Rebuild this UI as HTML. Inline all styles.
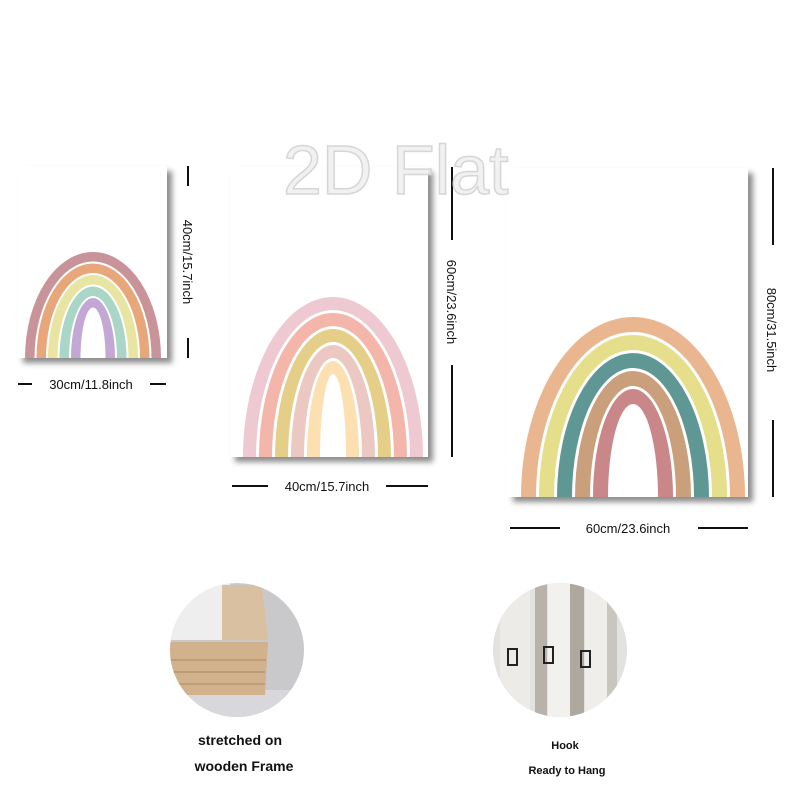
<!DOCTYPE html>
<html><head><meta charset="utf-8"><style>
html,body{margin:0;padding:0;background:#fff;}
svg{display:block;font-family:"Liberation Sans",sans-serif;}
</style></head><body>
<svg width="800" height="800" viewBox="0 0 800 800">
<defs>
<filter id="sh" x="-10%" y="-10%" width="130%" height="130%"><feDropShadow dx="5" dy="5" stdDeviation="3" flood-color="#000" flood-opacity="0.45"/></filter>
<clipPath id="c1"><circle cx="237" cy="650" r="67"/></clipPath>
<clipPath id="c2"><circle cx="560" cy="650" r="67"/></clipPath>
</defs>

<g>
<rect x="18" y="166" width="149" height="192" fill="#fff" filter="url(#sh)"/>
<g id="r1"></g>
</g>
<line x1="188" y1="166" x2="188" y2="186" stroke="#111" stroke-width="2"/>
<line x1="188" y1="338" x2="188" y2="358" stroke="#111" stroke-width="2"/>
<text transform="translate(183,262) rotate(90)" text-anchor="middle" font-size="13" fill="#111">40cm/15.7inch</text>
<line x1="18" y1="384" x2="32" y2="384" stroke="#111" stroke-width="2"/>
<line x1="150" y1="384" x2="166" y2="384" stroke="#111" stroke-width="2"/>
<text x="91" y="389" text-anchor="middle" font-size="13" fill="#111">30cm/11.8inch</text>

<g>
<rect x="230" y="167" width="198" height="290" fill="#fff" filter="url(#sh)"/>
<g id="r2"></g>
</g>
<line x1="452" y1="167" x2="452" y2="240" stroke="#111" stroke-width="2"/>
<line x1="452" y1="365" x2="452" y2="457" stroke="#111" stroke-width="2"/>
<text transform="translate(447,302) rotate(90)" text-anchor="middle" font-size="13" fill="#111">60cm/23.6inch</text>
<line x1="232" y1="486" x2="268" y2="486" stroke="#111" stroke-width="2"/>
<line x1="386" y1="486" x2="428" y2="486" stroke="#111" stroke-width="2"/>
<text x="327" y="491" text-anchor="middle" font-size="13" fill="#111">40cm/15.7inch</text>

<g>
<rect x="508" y="168" width="240" height="329" fill="#fff" filter="url(#sh)"/>
<g id="r3"></g>
</g>
<line x1="773" y1="168" x2="773" y2="245" stroke="#111" stroke-width="2"/>
<line x1="773" y1="420" x2="773" y2="497" stroke="#111" stroke-width="2"/>
<text transform="translate(767,330) rotate(90)" text-anchor="middle" font-size="13" fill="#111">80cm/31.5inch</text>
<line x1="510" y1="528" x2="560" y2="528" stroke="#111" stroke-width="2"/>
<line x1="698" y1="528" x2="748" y2="528" stroke="#111" stroke-width="2"/>
<text x="628" y="533" text-anchor="middle" font-size="13" fill="#111">60cm/23.6inch</text>

<text x="283" y="194" font-size="70" fill="#eeeeee" fill-opacity="0.8" stroke="#d6d6d6" stroke-width="1.5">2D Flat</text>

<g clip-path="url(#c1)">
<rect x="160" y="580" width="160" height="140" fill="#c9c9cc"/>
<rect x="160" y="580" width="70" height="60" fill="#eeeeee"/>
<rect x="160" y="690" width="160" height="40" fill="#d8d8dc"/>
<path d="M222,585 L262,585 L268,640 L222,640 Z" fill="#d9c0a0"/>
<path d="M165,642 L268,642 L265,695 L165,695 Z" fill="#d2b28c"/>
<path d="M165,660 L266,660 M165,672 L265,672 M165,684 L265,684" stroke="#b8946c" stroke-width="1.5"/>
</g>
<text x="240" y="745" text-anchor="middle" font-size="14" font-weight="bold" fill="#111">stretched on</text>
<text x="244" y="771" text-anchor="middle" font-size="14" font-weight="bold" fill="#111">wooden Frame</text>

<g clip-path="url(#c2)">
<rect x="490" y="580" width="140" height="140" fill="#e2e2e0"/>
<rect x="535" y="580" width="12" height="140" fill="#b8b2aa"/>
<rect x="570" y="580" width="14" height="140" fill="#aea89f"/>
<rect x="605" y="580" width="12" height="140" fill="#c9c6c0"/>
<rect x="500" y="580" width="30" height="140" fill="#ecebe7"/>
<rect x="548" y="580" width="22" height="140" fill="#f2f1ee"/>
<rect x="585" y="580" width="22" height="140" fill="#efeeea"/>
<rect x="508" y="649" width="9" height="16" fill="none" stroke="#222" stroke-width="2"/>
<rect x="544" y="647" width="9" height="16" fill="none" stroke="#222" stroke-width="2"/>
<rect x="581" y="651" width="9" height="16" fill="none" stroke="#222" stroke-width="2"/>
</g>
<text x="565" y="749" text-anchor="middle" font-size="11" font-weight="bold" fill="#111">Hook</text>
<text x="567" y="774" text-anchor="middle" font-size="11" font-weight="bold" fill="#111">Ready to Hang</text>
</svg>
<script>
const NS="http://www.w3.org/2000/svg";
function rainbow(id,cx,base,a,b,bandW,gap,colors,name){
  const g=document.getElementById(id);
  function arch(aa,bb,fill){
    const p=document.createElementNS(NS,'path');
    p.setAttribute('d',`M${cx-aa},${base} A${aa},${bb} 0 0 1 ${cx+aa},${base} Z`);
    p.setAttribute('fill',fill);
    g.appendChild(p);
    return p;
  }
  colors.forEach((c,i)=>{
    const p=arch(a,b,c);
    
    
    a-=bandW;b-=bandW;
    arch(a,b,'#fff');
    a-=gap;b-=gap;
  });
}
rainbow('r1',93,358,68,106,9.5,2,['#c9939a','#e8a77a','#e8e4a2','#a9d6c6','#c3a8d6'],'small-rainbow');
rainbow('r2',333,457,90,160,13,3,['#efc9d1','#f4b5aa','#e5cf88','#ecc8c2','#fde0b2'],'medium-rainbow');
rainbow('r3',633,497,112,180,15,3,['#eab68f','#e5df8c','#5f9794','#caa07c','#c98789'],'large-rainbow');
</script>
</body></html>
